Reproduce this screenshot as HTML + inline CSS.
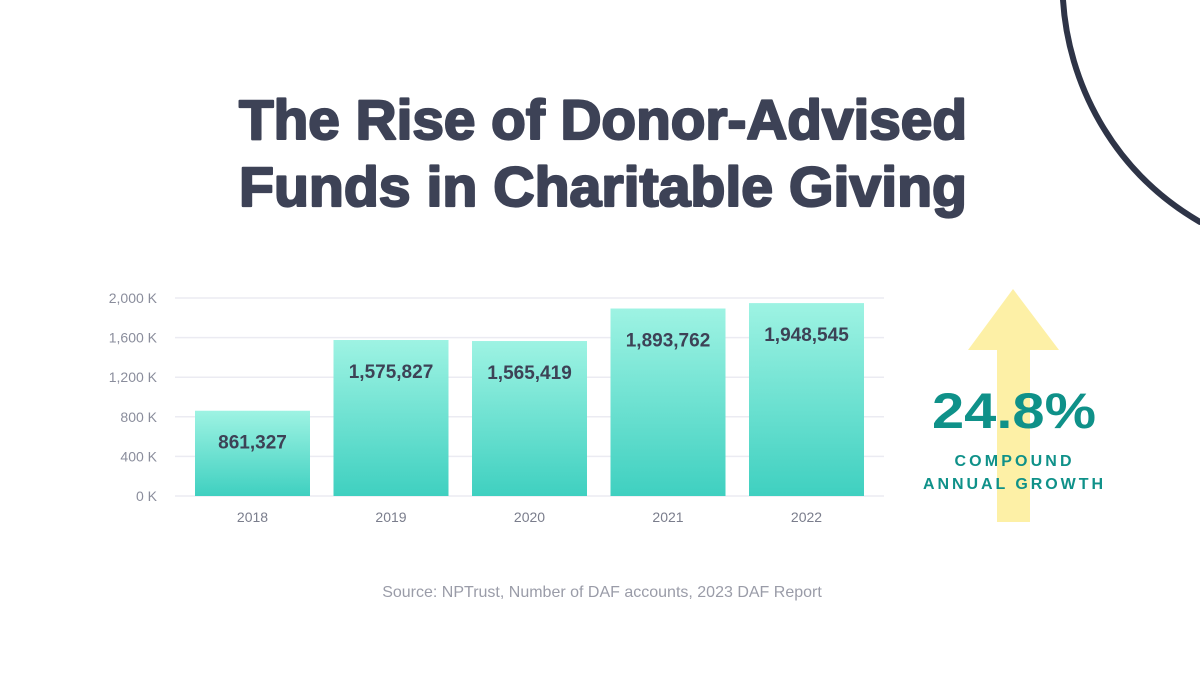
<!DOCTYPE html>
<html><head><meta charset="utf-8"><style>
html,body{margin:0;padding:0;background:#fff;width:1200px;height:675px;overflow:hidden}
svg{display:block;font-family:"Liberation Sans",sans-serif}
</style></head><body>
<svg id="chart" width="1200" height="675" viewBox="0 0 1200 675">
<defs>
<linearGradient id="barGrad" x1="0" y1="0" x2="0" y2="1">
<stop offset="0" stop-color="#9ef3e3"/><stop offset="1" stop-color="#3fd0c0"/>
</linearGradient>
</defs>
<path d="M1063,0 C1068,80 1110,170 1200,222" fill="none" stroke="#2e3447" stroke-width="6" stroke-linecap="round"/>
<g fill="#3d4256" stroke="#3d4256" stroke-width="2.2" stroke-linejoin="round" font-weight="bold" font-size="56" text-anchor="middle">
<text x="603" y="139" textLength="728" lengthAdjust="spacingAndGlyphs">The Rise of Donor-Advised</text>
<text x="603" y="206" textLength="728" lengthAdjust="spacingAndGlyphs">Funds in Charitable Giving</text>
</g>
<g id="grid"></g>
<g id="yaxis"></g>
<g id="bars"></g>
<g id="xaxis"></g>
<g>
<polygon points="1013,289 968,350 997,350 997,522 1030,522 1030,350 1059,350" fill="#fdf0a6"/>
<text x="1014" y="428" text-anchor="middle" font-size="50" font-weight="bold" fill="#0f9189" textLength="164" lengthAdjust="spacingAndGlyphs">24.8%</text>
<text x="1013" y="466" text-anchor="middle" font-size="16" font-weight="bold" fill="#0f9189" textLength="117" lengthAdjust="spacing">COMPOUND</text>
<text x="1013" y="489" text-anchor="middle" font-size="16" font-weight="bold" fill="#0f9189" textLength="180" lengthAdjust="spacing">ANNUAL GROWTH</text>
</g>
<text x="602" y="597" text-anchor="middle" font-size="16" fill="#9a9ca8">Source: NPTrust, Number of DAF accounts, 2023 DAF Report</text>
</svg>
<script>
const categories = ["2018","2019","2020","2021","2022"];
const values = [861327,1575827,1565419,1893762,1948545];
const valueLabels = ["861,327","1,575,827","1,565,419","1,893,762","1,948,545"];
const yTicks = [0,400000,800000,1200000,1600000,2000000];
const yTickLabels = ["0 K","400 K","800 K","1,200 K","1,600 K","2,000 K"];

const NS = "http://www.w3.org/2000/svg";
const plotL = 175, plotR = 884, y0 = 496, y1 = 298, yMax = 2000000;
const yScale = v => y0 - (v / yMax) * (y0 - y1);
const firstCenter = 252.5, step = 138.5;
const barW = 115;
const xCenter = i => firstCenter + step * i;
function mk(tag, attrs, parent, txt){
  const e = document.createElementNS(NS, tag);
  for (const k in attrs) e.setAttribute(k, attrs[k]);
  if (txt !== undefined) e.textContent = txt;
  parent.appendChild(e); return e;
}
const grid = document.getElementById('grid'), ya = document.getElementById('yaxis');
const bars = document.getElementById('bars'), xa = document.getElementById('xaxis');
yTicks.forEach((t, i) => {
  const y = yScale(t);
  const l = mk('line', {x1: plotL, x2: plotR, y1: y, y2: y, stroke: '#ebebf2', 'stroke-width': 1.5}, grid);
  
  
  const tx = mk('text', {x: 157, y: y + 5, 'text-anchor': 'end', 'font-size': 14, fill: '#8a8d9c'}, ya, yTickLabels[i]);
  
  
});
categories.forEach((c, i) => {
  const cx = xCenter(i), top = yScale(values[i]);
  const r = mk('rect', {x: cx - barW / 2, y: top, width: barW, height: y0 - top, fill: 'url(#barGrad)'}, bars);
  
  
  const vl = mk('text', {x: cx, y: top + 38, 'text-anchor': 'middle', 'font-size': 19, 'font-weight': 'bold', fill: '#3d4256'}, bars, valueLabels[i]);
  
  
  const xl = mk('text', {x: cx, y: 522, 'text-anchor': 'middle', 'font-size': 14, fill: '#7a7d8c'}, xa, c);
  
  
});
</script>
</body></html>
